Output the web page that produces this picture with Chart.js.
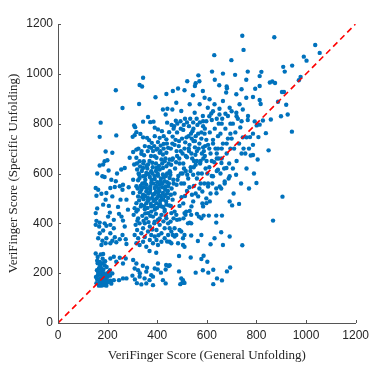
<!DOCTYPE html>
<html>
<head>
<meta charset="utf-8">
<script src="https://cdn.jsdelivr.net/npm/chart.js@4/dist/chart.umd.min.js"></script>
<style>
  html, body { margin: 0; padding: 0; background: #ffffff; }
  canvas { display: block; }
</style>
</head>
<body>
<canvas id="scoreChart" width="374" height="379"></canvas>
<script>
// Scores: [general unfolding, specific unfolding]

// dense knot at the lower left
const lowLeftCluster = [
    [155,160],[158,175],[160,190],[162,205],[165,220],[160,240],[168,165],[170,180],[172,195],[175,210],
    [170,230],[178,160],[180,172],[182,188],[185,200],[183,215],[188,165],[190,178],[192,192],[195,158],
    [198,170],[200,185],[165,150],[175,150],[185,152],[195,150],[158,250],[168,245],[178,240],[188,232],
    [196,225],[205,205],[210,190],[212,170],[215,158],[163,198],[173,222],[180,258],[190,248],[153,185],
    [157,212],[167,173],[177,197],[187,185],[199,200],[205,165],[160,265],[172,275],[209,212],[219,199],
    [225,172],[246,172],[262,179],[276,179],[152,279],[182,277],[211,259],[225,266],[249,262],[235,246],
    [262,239],[273,259]
];

// column of points at general score 150-290
const leftColumn = [
    [152,441],[155,410],[152,394],[168,403],[166,387],[188,400],[195,390],[182,371],[168,360],[162,340],
    [179,330],[195,340],[192,320],[175,313],[211,320],[219,330],[235,324],[229,344],[211,360],[225,380],
    [211,394],[225,414],[246,438],[256,427],[262,411],[269,387],[260,353],[249,336],[273,336],[276,317],
    [209,443],[202,427],[233,934],[260,863],[172,804],[235,753],[168,747],[192,688],[219,683],[168,632],
    [182,636],[188,649],[199,653],[255,616],[269,622],[179,589],[188,586],[215,575],[233,569],[152,542],
    [162,535],[175,519],[195,522],[211,542],[229,546],[249,549],[262,555],[260,535],[219,508],[192,495],
    [182,475],[155,511],[252,495],[276,495],[289,663],[205,470],[242,466],[158,460],[285,545],[238,600],
    [204,612],[158,600],[282,455]
];

// main body, general score 300-450
const mainClusterLeft = [
    [393,906],[437,919],[327,879],[423,857],[434,837],[441,860],[363,827],[372,806],[385,808],[343,808],
    [307,793],[311,786],[316,766],[309,754],[301,747],[332,759],[343,745],[359,743],[367,734],[378,723],
    [367,707],[419,770],[426,750],[410,743],[437,737],[403,726],[426,719],[414,712],[303,686],[316,663],
    [346,649],[336,679],[347,673],[383,690],[397,696],[410,683],[423,676],[437,683],[397,663],[417,656],
    [430,649],[307,636],[319,616],[343,622],[327,596],[303,575],[323,573],[343,589],[356,602],[376,609],
    [397,622],[410,616],[423,622],[437,629],[316,549],[336,535],[356,555],[376,562],[390,542],[410,555],
    [430,569],[444,549],[303,522],[323,508],[343,515],[363,502],[383,515],[403,508],[423,522],[444,502],
    [316,481],[336,475],[356,481],[376,468],[397,481],[417,468],[437,475],[309,461],[350,457],[390,455],
    [430,455],[329,582],[370,586],[403,591],[423,596],[450,582],[390,578],[350,562],[450,609],[390,784],
    [403,777],[440,804],[448,766],[390,750],[376,703],[444,703],[390,669],[450,656],[363,636],[380,643],
    [329,649],[316,696],[365,520],[372,535],[395,528],[405,540],[415,510],[398,500],[385,490],[362,490],
    [345,497],[432,535],[440,520],[425,495],[408,470],[380,600],[395,610],[360,620],[415,580],[435,590],
    [352,575],[372,548],[420,545],[330,525],[340,560],[400,565],[440,565],[388,518],[412,490],[356,528],
    [305,434],[316,447],[323,420],[329,400],[313,394],[319,373],[309,353],[323,340],[336,360],[343,380],
    [350,400],[356,420],[363,441],[376,447],[383,427],[390,407],[370,387],[363,367],[376,353],[397,373],
    [410,394],[403,414],[417,434],[430,447],[437,420],[444,400],[430,380],[417,360],[397,333],[383,320],
    [403,313],[417,326],[343,326],[356,306],[329,313],[430,340],[444,353],[390,347],[370,333],[316,320],
    [340,430],[395,438],[425,408],[380,375],[350,345],[405,352],[440,327],[403,239],[390,219]
];

// the densest core of the cloud
const denseCore = [
    [322,455],[334,468],[348,470],[361,462],[374,478],[386,470],[399,462],[411,478],[424,466],[436,488],
    [448,472],[327,492],[339,505],[352,510],[366,495],[379,502],[392,496],[404,520],[418,500],[431,510],
    [443,530],[455,515],[321,540],[333,550],[346,545],[359,540],[371,525],[384,560],[396,550],[409,530],
    [421,560],[434,548],[447,560],[325,600],[338,610],[351,590],[364,598],[377,575],[389,590],[402,600],
    [414,570],[427,585],[440,600],[453,595],[318,640],[331,628],[344,640],[357,630],[369,650],[382,625],
    [395,640],[407,630],[420,640],[433,660],[446,640],[324,700],[337,690],[350,710],[362,690],[375,670],
    [388,710],[401,700],[413,690],[426,700],[439,720],[320,410],[345,410],[365,405],[388,400],[410,420],
    [435,430],[372,430],[352,440],
    [466,560],[482,575],[495,600],[508,620],[521,595],[534,610],[547,625],[560,650],[573,640],[586,660],
    [599,650],[463,660],[476,645],[489,660],[502,680],[515,670],[528,690],[541,660],[554,675],[567,700],
    [580,680],[593,710],[461,720],[474,735],[487,710],[500,740],[513,725],[526,750],[539,740],[552,730],
    [565,760],[578,740],[591,760],[468,790],[481,800],[494,810],[507,795],[520,805],[533,820],[546,780],
    [559,820],[572,805],[585,790],[598,810],[610,830],[625,850],[640,820],[660,800],[675,840],[700,850],
    [720,830],[740,810],[610,700],[625,720],[640,680],[660,700],[680,720],[700,740],[620,650],[640,660]
];

// strip along the bottom, general score 300-450
const lowerBand = [
    [436,233],[446,229],[434,215],[402,215],[415,202],[423,172],[434,159],[396,282],[369,289],[342,230],
    [359,222],[356,206],[349,179],[336,155],[356,159],[383,152],[376,192],[383,186],[369,172],[329,186],
    [303,253],[316,239],[309,219],[323,212],[310,175],[318,160],[330,200],[300,190]
];

// main body, general score 450-800
const mainClusterRight = [
    [455,470],[462,495],[470,520],[458,540],[478,555],[465,575],[485,590],[452,605],[472,620],[490,640],
    [460,655],[480,670],[495,690],[455,700],[470,715],[488,730],[462,748],[480,765],[495,780],[458,795],
    [475,812],[498,505],[490,470],[497,560],[456,635],[478,690],[466,780],
    [505,480],[512,510],[520,530],[530,545],[540,515],[508,560],[525,580],[545,595],[515,610],[535,625],
    [505,640],[548,650],[520,665],[538,680],[510,700],[530,715],[546,730],[518,745],[536,760],[505,775],
    [528,790],[545,805],[512,820],[548,550],[502,600],[527,700],[542,770],
    [555,520],[570,540],[590,560],[560,580],[580,600],[595,620],[555,635],[575,650],[592,670],[560,690],
    [585,705],[570,720],[598,735],[555,750],[578,765],[592,780],[562,795],[585,810],[565,600],[588,690],
    [552,705],[575,560],[598,500],[582,480],
    [605,560],[620,590],[640,610],[610,625],[630,645],[648,660],[615,680],[635,700],[605,715],[625,735],
    [645,750],[612,765],[632,780],[648,800],[620,815],[615,520],[638,540],[602,600],[622,560],[645,700],
    [655,600],[670,620],[690,640],[660,660],[680,680],[695,700],[665,720],[685,740],[655,760],[675,780],
    [695,800],[662,820],[672,560],[688,580],[658,540],[695,760],
    [705,620],[720,650],[740,680],[710,700],[730,720],[745,745],[715,765],[735,785],[705,800],[725,820],
    [748,700],[718,595],[738,560],[708,520],
    [755,680],[770,700],[760,745],[765,815],[760,620],[770,540],
    [463,931],[510,934],[544,914],[584,931],[591,904],[611,898],[631,878],[665,891],[678,925],[719,918],
    [732,878],[759,904],[692,864],[651,860],[604,864],[571,878],[531,878],[477,884],[461,857],[497,851],
    [551,844],[584,831],[618,841],[651,837],[685,831],[719,844],[745,857],[766,831],
    [800,562],[730,478],[702,472],[692,488],[585,468],[598,481],[612,488],[639,521],[652,548],[672,568],
    [692,589],[679,622],[659,642],[645,615],[625,589],[605,548],[582,528],[565,508],[545,488],[538,468]
];

// points under the diagonal, general score 450-770
const belowDiagonal = [
    [457,441],[470,447],[477,434],[466,420],[454,407],[480,414],[490,416],[506,420],[510,441],[517,447],
    [531,450],[537,434],[514,434],[524,400],[531,403],[537,400],[560,438],[568,427],[578,420],[587,431],
    [608,431],[638,431],[661,431],[638,403],[450,380],[457,367],[463,353],[470,347],[477,353],[470,380],
    [490,373],[497,367],[504,340],[510,353],[484,320],[504,313],[510,306],[450,326],[457,320],[537,351],
    [578,353],[564,329],[615,316],[631,340],[658,364],[665,313],[692,347],[743,312],[450,232],[488,269],
    [535,263],[578,257],[587,270],[602,246],[488,207],[555,202],[584,212],[606,202],[626,214],[681,207],
    [694,223],[497,179],[504,172],[501,161],[510,161],[493,156],[641,179],[661,171],[626,156]
];

// sparse top of the cloud
const upperTail = [
    [743,1153],[748,1096],[630,1075],[699,1055],[621,1009],[665,1001],[714,996],[765,1009],[632,976],
    [650,954],[680,949],[681,942],[759,976],[740,938],[566,994],[521,970],[555,962],[570,970],[552,951],
    [484,941],[343,984],[329,955],[339,949],[786,907],[795,940]
];

// sparse right side, general score above 770
const rightTail = [
    [872,1147],[1037,1116],[1055,1084],[991,1069],[1002,1053],[944,1033],[908,1028],[914,1009],[820,1008],
    [813,991],[978,987],[971,974],[854,965],[864,969],[875,963],[813,951],[903,927],[911,927],[813,895],
    [817,879],[920,876],[887,888],[899,830],[926,837],[858,817],[826,813],[813,796],[838,762],[943,768],
    [849,693],[905,507],[867,411],[793,809],[801,793],[786,760],[774,746],[808,746],[777,672],[786,674],
    [805,656],[786,715],[790,600]
];

// y = x reference line
const diagonalEnds = [0, 1200];

const axisMin = 0;
const axisMax = 1200;
const tickStep = 200;

const scoreGroups = [lowLeftCluster, leftColumn, mainClusterLeft, denseCore, lowerBand,
    mainClusterRight, belowDiagonal, upperTail, rightTail];

const scorePoints = [];
scoreGroups.forEach(function(group) {
    group.forEach(function(p) {
        scorePoints.push({ x: p[0], y: p[1] });
    });
});

const axisColor = '#555555';
const textColor = '#262626';

// MATLAB style ticks pointing into the plot
const inwardTicks = {
    id: 'inwardTicks',
    afterDraw: function(chart) {
        const ctx = chart.ctx;
        const xs = chart.scales.x;
        const ys = chart.scales.y;
        ctx.save();
        ctx.strokeStyle = axisColor;
        ctx.lineWidth = 1;
        ctx.beginPath();
        xs.ticks.forEach(function(t) {
            const px = Math.round(xs.getPixelForValue(t.value)) + 0.5;
            ctx.moveTo(px, xs.top);
            ctx.lineTo(px, xs.top - 3);
        });
        ys.ticks.forEach(function(t) {
            const py = Math.round(ys.getPixelForValue(t.value)) + 0.5;
            ctx.moveTo(ys.right, py);
            ctx.lineTo(ys.right + 3, py);
        });
        ctx.stroke();
        ctx.restore();
    }
};

const tickFont = { family: "'Liberation Sans', Arial, sans-serif", size: 12 };
const titleFont = { family: "'Liberation Serif', 'Times New Roman', serif", size: 13 };

// plain numbers, no thousands separator
function plainTick(value) {
    return String(value);
}

new Chart(document.getElementById('scoreChart').getContext('2d'), {
    type: 'scatter',
    data: {
        datasets: [
            {
                type: 'line',
                data: diagonalEnds.map(function(v) { return { x: v, y: v }; }),
                borderColor: '#ff0000',
                borderWidth: 1.6,
                borderDash: [6, 4],
                pointRadius: 0,
                fill: false,
                order: 0
            },
            {
                data: scorePoints,
                backgroundColor: '#0072bd',
                borderWidth: 0,
                pointRadius: 2.2,
                order: 1
            }
        ]
    },
    options: {
        responsive: false,
        animation: false,
        devicePixelRatio: 1,
        layout: { padding: { top: 24, right: 18, bottom: 12, left: 0 } },
        plugins: {
            legend: { display: false },
            tooltip: { enabled: false }
        },
        scales: {
            x: {
                type: 'linear',
                min: axisMin,
                max: axisMax,
                afterFit: function(scale) { scale.height = 44; },
                ticks: { stepSize: tickStep, padding: 5, color: textColor, font: tickFont, maxRotation: 0, callback: plainTick },
                grid: { display: true, drawOnChartArea: false, drawTicks: false },
                border: { display: true, color: axisColor, width: 1 },
                title: {
                    display: true,
                    text: 'VeriFinger Score (General Unfolding)',
                    color: textColor,
                    font: titleFont,
                    padding: { top: 2, bottom: 4 }
                }
            },
            y: {
                type: 'linear',
                min: axisMin,
                max: axisMax,
                afterFit: function(scale) { scale.width = 58; },
                ticks: { stepSize: tickStep, padding: 5, color: textColor, font: tickFont, callback: plainTick },
                grid: { display: true, drawOnChartArea: false, drawTicks: false },
                border: { display: true, color: axisColor, width: 1 },
                title: {
                    display: true,
                    text: 'VeriFinger Score (Specific Unfolding)',
                    color: textColor,
                    font: titleFont,
                    padding: { top: 6, bottom: 4 }
                }
            }
        }
    },
    plugins: [inwardTicks]
});
</script>
</body>
</html>
